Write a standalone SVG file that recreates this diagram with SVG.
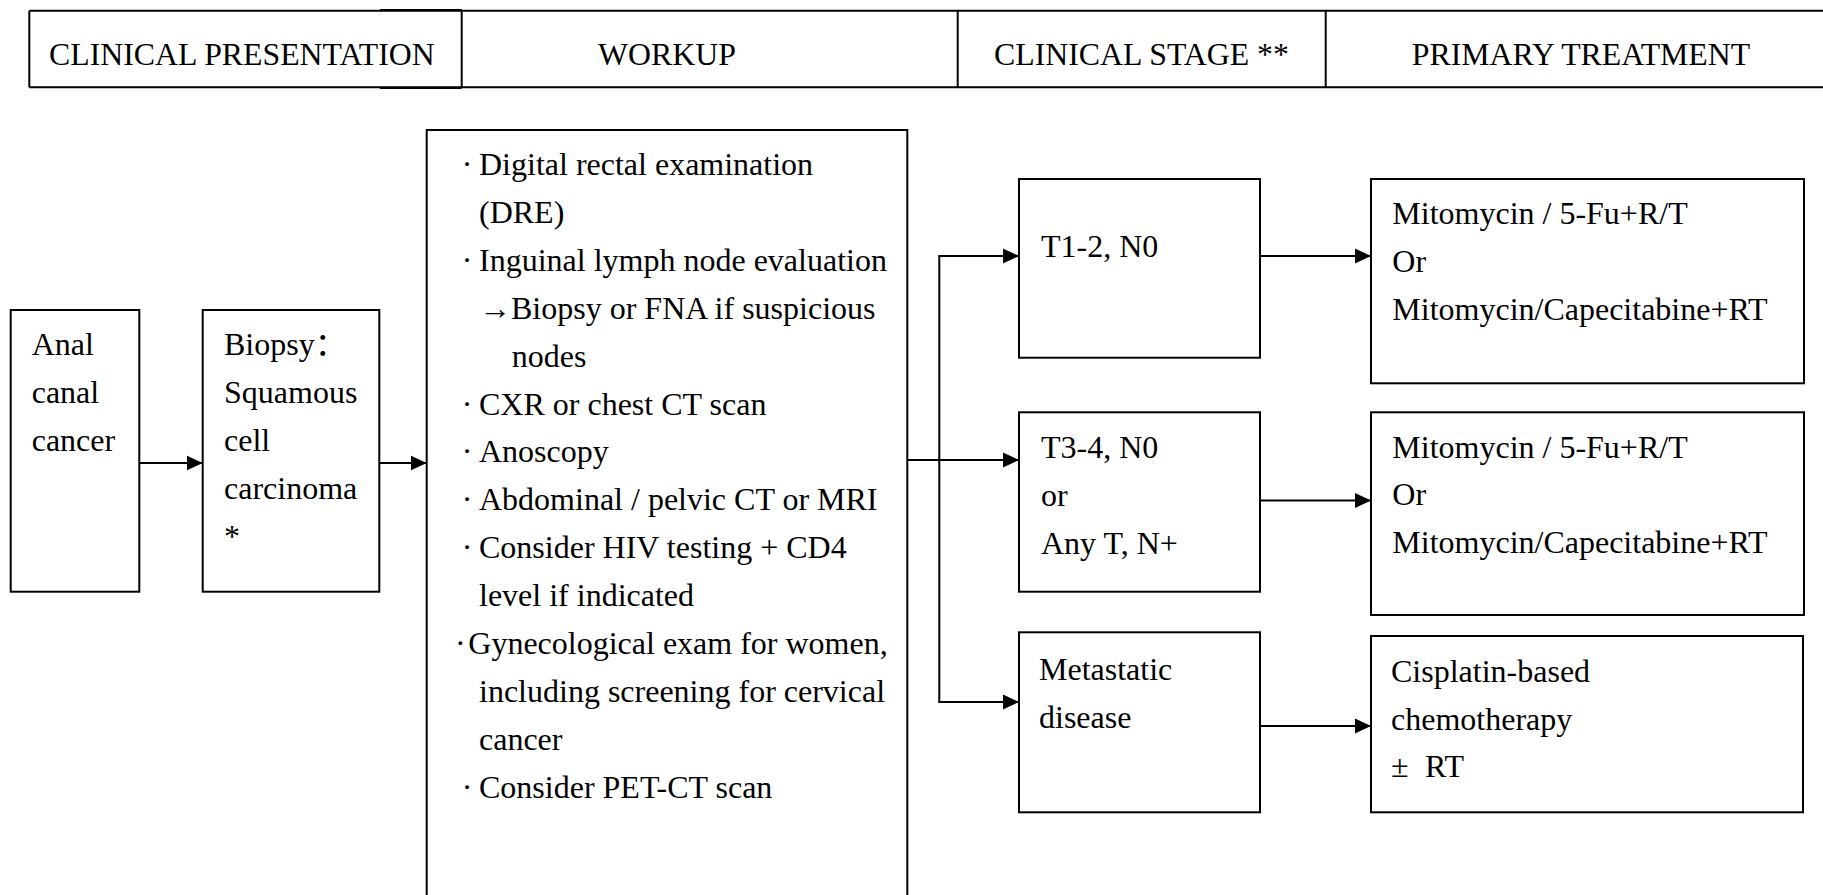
<svg xmlns="http://www.w3.org/2000/svg" width="1823" height="895" viewBox="0 0 1823 895" font-family="'Liberation Serif', serif">
<defs>
<style>
text{font-family:'Liberation Serif', serif;font-size:32px;fill:#000}
.hd{font-size:31.8px}
.cjk{font-family:'Liberation Serif','Noto Sans CJK SC',sans-serif}
.box{fill:#fff;stroke:#000;stroke-width:2}
.ln{fill:none;stroke:#000;stroke-width:2}
.ar{fill:none;stroke:#000;stroke-width:2;marker-end:url(#ah)}
</style>
<marker id="ah" markerWidth="16" markerHeight="16" viewBox="0 0 16 16" refX="16" refY="8" orient="auto" markerUnits="userSpaceOnUse">
<path d="M0,0.5 L16,8 L0,15.5 Z" fill="#000"/>
</marker>
</defs>
<rect width="1823" height="895" fill="#fff"/>

<g id="header">
<path class="ln" d="M29.3,10.7 H1823 M29.3,87.3 H1823 M29.3,10.7 V87.3 M461.7,10.7 V87.3 M957.7,10.7 V87.3 M1325.7,10.7 V87.3"/>
<path d="M380,9.5 H461.7 M380,88.5 H461.7" fill="none" stroke="#000" stroke-width="1"/>
<text class="hd" x="49" y="65">CLINICAL PRESENTATION</text>
<text class="hd" x="667" y="65" text-anchor="middle">WORKUP</text>
<text class="hd" x="1141.5" y="65" text-anchor="middle">CLINICAL STAGE **</text>
<text class="hd" x="1581" y="65" text-anchor="middle">PRIMARY TREATMENT</text>
</g>

<g id="connectors">
<line class="ar" x1="139.5" y1="463" x2="202.7" y2="463"/>
<line class="ar" x1="379.3" y1="463" x2="426.7" y2="463"/>
<line class="ar" x1="907.3" y1="460" x2="1019" y2="460"/>
<path class="ln" d="M939.3,256 V702"/>
<line class="ar" x1="938.3" y1="256" x2="1019" y2="256"/>
<line class="ar" x1="938.3" y1="702" x2="1019" y2="702"/>
<line class="ar" x1="1260" y1="256" x2="1371" y2="256"/>
<line class="ar" x1="1257.7" y1="500.5" x2="1371" y2="500.5"/>
<line class="ar" x1="1260" y1="726" x2="1371" y2="726"/>
</g>

<g id="anal">
<rect class="box" x="10.7" y="310" width="128.6" height="281.7"/>
<text x="31.7" y="355">Anal</text>
<text x="31.7" y="403">canal</text>
<text x="31.7" y="451">cancer</text>
</g>

<g id="biopsy">
<rect class="box" x="202.7" y="310" width="176.6" height="281.7"/>
<text x="224" y="355">Biopsy<tspan class="cjk">：</tspan></text>
<text x="224" y="403">Squamous</text>
<text x="224" y="451">cell</text>
<text x="224" y="499">carcinoma</text>
<text x="224" y="547">*</text>
</g>

<g id="workup">
<rect class="box" x="426.7" y="130" width="480.6" height="780"/>
<text x="461.7" y="175">·</text><text x="479" y="175">Digital rectal examination</text>
<text x="479" y="223">(DRE)</text>
<text x="461.7" y="271">·</text><text x="479" y="271">Inguinal lymph node evaluation</text>
<text x="479" y="318.7">→Biopsy or FNA if suspicious</text>
<text x="511.7" y="366.6">nodes</text>
<text x="461.7" y="414.5">·</text><text x="479" y="414.5">CXR or chest CT scan</text>
<text x="461.7" y="462.4">·</text><text x="479" y="462.4">Anoscopy</text>
<text x="461.7" y="510.3">·</text><text x="479" y="510.3">Abdominal / pelvic CT or MRI</text>
<text x="461.7" y="558.2">·</text><text x="479" y="558.2">Consider HIV testing + CD4</text>
<text x="479" y="606">level if indicated</text>
<text x="455" y="654">·</text><text x="468.3" y="654">Gynecological exam for women,</text>
<text x="479" y="702">including screening for cervical</text>
<text x="479" y="750">cancer</text>
<text x="461.7" y="797.7">·</text><text x="479" y="797.7">Consider PET-CT scan</text>
</g>

<g id="stage1">
<rect class="box" x="1019" y="179" width="241" height="178.7"/>
<text x="1041" y="256.7">T1-2, N0</text>
</g>

<g id="stage2">
<rect class="box" x="1019" y="412.3" width="241" height="179.4"/>
<text x="1041" y="458.3">T3-4, N0</text>
<text x="1041" y="506">or</text>
<text x="1041" y="554">Any T, N+</text>
</g>

<g id="stage3">
<rect class="box" x="1019" y="632.3" width="241" height="180"/>
<text x="1039" y="680">Metastatic</text>
<text x="1039" y="728">disease</text>
</g>

<g id="tx1">
<rect class="box" x="1371" y="179" width="433" height="204.3"/>
<text x="1392.3" y="224">Mitomycin / 5-Fu+R/T</text>
<text x="1392.3" y="271.7">Or</text>
<text x="1392.3" y="320">Mitomycin/Capecitabine+RT</text>
</g>

<g id="tx2">
<rect class="box" x="1371" y="412.3" width="433" height="202.7"/>
<text x="1392.3" y="457.7">Mitomycin / 5-Fu+R/T</text>
<text x="1392.3" y="505">Or</text>
<text x="1392.3" y="553.3">Mitomycin/Capecitabine+RT</text>
</g>

<g id="tx3">
<rect class="box" x="1371" y="636" width="432" height="176.3"/>
<text x="1391" y="682">Cisplatin-based</text>
<text x="1391" y="730">chemotherapy</text>
<text x="1391" y="777">±</text><text x="1425" y="777">RT</text>
</g>
</svg>
